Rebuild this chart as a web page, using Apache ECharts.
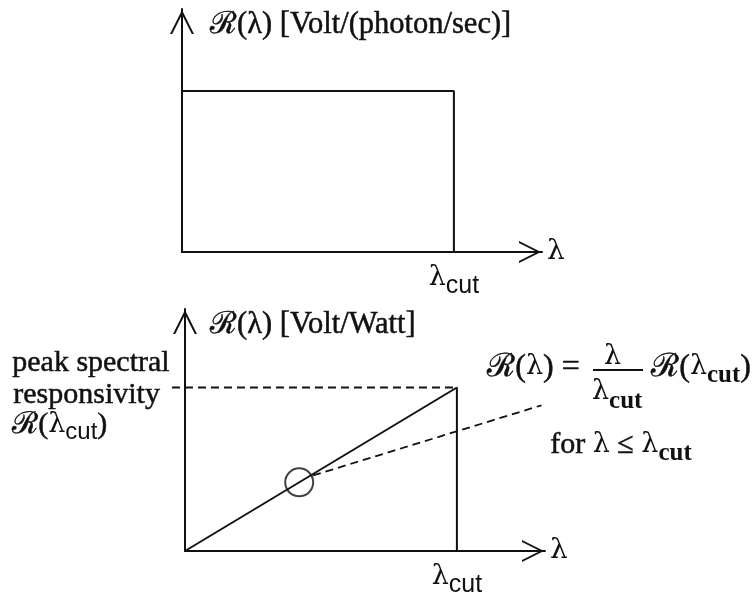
<!DOCTYPE html>
<html>
<head>
<meta charset="utf-8">
<style>
  html, body { margin: 0; padding: 0; background: #fff; }
  #chart { width: 755px; height: 598px; }
</style>
<script src="https://cdn.jsdelivr.net/npm/echarts@6/dist/echarts.min.js"></script>
</head>
<body>
<div id="chart"></div>
<script>
// Wavelengths are normalised to the cut-off wavelength (λcut = 1),
// responsivities to their peak value.
const lambdaCut = 1;
const axisMaxX = 1.324;

// Upper panel: responsivity per photon rate — flat up to λcut, zero beyond
const photonWavelength = [0, 1, 1];
const photonResponse = [1, 1, 0];
const photonAxisMaxY = 1.51;

// Lower panel: responsivity per watt — rises linearly up to λcut
const wattWavelength = [0, 1, 1];
const wattResponse = [0, 1, 0];
const wattAxisMaxY = 1.48;

// Dashed guide at the peak spectral responsivity (starts just left of the axis)
const peakGuideX = [-0.048, 1];
const peakGuideY = [1, 1];

// Highlighted point on the ramp and the dashed leader to the formula
const markerPoint = [0.42, 0.42];
const leaderX = [0.471, 1.311];
const leaderY = [0.462, 0.891];

const SERIF = "'Liberation Serif', 'DejaVu Serif', serif";
const LAMBDA = "'DejaVu Serif', 'Liberation Serif', serif";
const SANS = "'Liberation Sans', Arial, sans-serif";
const INK = '#111';
const HEAVY = 0.5; // slight outline so the serif text prints a little heavier

// open chevron arrow head, pointing up in its own box
const chevron = 'path://M12,0 L24,24 L21.8,24 L12,4.4 L2.2,24 L0,24 Z';

function pairs(xs, ys) {
  return xs.map((x, i) => [x, ys[i]]);
}

const cutLabelRich = {
  g: { fontFamily: LAMBDA, fontSize: 27, color: INK },
  s: { fontFamily: SANS, fontSize: 25, color: INK, padding: [18, 0, 0, 0] }
};

function xAxisFor(gridIndex) {
  return {
    gridIndex: gridIndex,
    type: 'value',
    min: 0,
    max: axisMaxX,
    interval: lambdaCut,
    axisLine: {
      show: true,
      onZero: false,
      symbol: ['none', chevron],
      symbolSize: [22, 24],
      symbolOffset: [0, -12],
      lineStyle: { color: INK, width: 2 }
    },
    axisTick: { show: false },
    splitLine: { show: false },
    axisLabel: {
      margin: 4,
      formatter: v => (Math.abs(v - lambdaCut) < 1e-9 ? '{g|λ}{s|cut}' : ''),
      rich: cutLabelRich
    },
    name: 'λ',
    nameLocation: 'end',
    nameGap: 5,
    nameTextStyle: { fontFamily: LAMBDA, fontSize: 28, color: INK, verticalAlign: 'middle', align: 'left' }
  };
}

function yAxisFor(gridIndex, max, title, pad) {
  return {
    gridIndex: gridIndex,
    type: 'value',
    min: 0,
    max: max,
    axisLine: {
      show: true,
      onZero: false,
      symbol: ['none', chevron],
      symbolSize: [24, 26],
      symbolOffset: [0, -13],
      lineStyle: { color: INK, width: 2 }
    },
    axisTick: { show: false },
    splitLine: { show: false },
    axisLabel: { show: false },
    name: title,
    nameLocation: 'end',
    nameGap: -16,
    nameTextStyle: {
      fontFamily: SERIF, fontSize: 30.5, color: INK,
      textBorderColor: INK, textBorderWidth: HEAVY,
      align: 'left', verticalAlign: 'middle',
      padding: [0, 0, 0, pad]
    }
  };
}

const solid = { color: INK, width: 2 };

// two-point dashed segment drawn in data coordinates, free to leave the plot area
function dashedSegment(xs, ys) {
  return {
    type: 'custom', xAxisIndex: 1, yAxisIndex: 1, clip: false,
    data: [[xs[0], ys[0], xs[1], ys[1]]],
    renderItem: (params, api) => {
      const a = api.coord([api.value(0), api.value(1)]);
      const b = api.coord([api.value(2), api.value(3)]);
      return {
        type: 'line',
        shape: { x1: a[0], y1: a[1], x2: b[0], y2: b[1] },
        style: { stroke: INK, lineWidth: 1.8, lineDash: [8, 5], fill: null }
      };
    }
  };
}

function serifText(left, top, text) {
  return {
    type: 'text', left: left, top: top,
    style: { text: text, font: '30px ' + SERIF, fill: INK, stroke: INK, lineWidth: HEAVY }
  };
}

// rich-text token styles for the annotation (text outline via stroke/lineWidth)
const tokSerif = { fontFamily: SERIF, fontSize: 30, fill: INK, stroke: INK, lineWidth: HEAVY };
const tokSerifBig = { fontFamily: SERIF, fontSize: 32, fill: INK, stroke: INK, lineWidth: HEAVY };
const tokLambda = { fontFamily: LAMBDA, fontSize: 27, fill: INK };
function tokSub(family, size, drop, bold) {
  return { fontFamily: family, fontSize: size, fontWeight: bold ? 'bold' : 'normal', fill: INK, padding: [drop, 0, 0, 0] };
}

const option = {
  backgroundColor: '#fff',
  animation: false,
  grid: [
    { left: 182, top: 9, width: 360, height: 243 },
    { left: 185, top: 309, width: 360, height: 244 }
  ],
  xAxis: [xAxisFor(0), xAxisFor(1)],
  yAxis: [
    yAxisFor(0, photonAxisMaxY, 'ℛ(λ) [Volt/(photon/sec)]', 28),
    yAxisFor(1, wattAxisMaxY, 'ℛ(λ) [Volt/Watt]', 25)
  ],
  series: [
    {
      type: 'line', xAxisIndex: 0, yAxisIndex: 0,
      data: pairs(photonWavelength, photonResponse),
      symbol: 'none', lineStyle: solid
    },
    {
      type: 'line', xAxisIndex: 1, yAxisIndex: 1,
      data: pairs(wattWavelength, wattResponse),
      symbol: 'none', lineStyle: solid
    },
    dashedSegment(peakGuideX, peakGuideY),
    dashedSegment(leaderX, leaderY),
    {
      type: 'scatter', xAxisIndex: 1, yAxisIndex: 1,
      data: [markerPoint],
      symbol: 'circle', symbolSize: 28,
      itemStyle: { color: 'rgba(0,0,0,0)', borderColor: INK, borderWidth: 2 }
    }
  ],
  graphic: [
    // left-hand annotation
    serifText(12, 348, 'peak spectral'),
    serifText(13, 380, 'responsivity'),
    {
      type: 'text', left: 12, top: 410,
      style: {
        text: '{g|ℛ(}{l|λ}{s|cut}{g|)}',
        rich: { g: tokSerif, l: tokLambda, s: tokSub(SANS, 24, 14, false) }
      }
    },
    // formula: ℛ(λ) = λ/λcut · ℛ(λcut)
    {
      type: 'text', left: 487, top: 351,
      style: {
        text: '{g|ℛ(}{l|λ}{g|) =}',
        rich: { g: tokSerifBig, l: tokLambda }
      }
    },
    { type: 'text', left: 604, top: 343, style: { text: 'λ', font: '27px ' + LAMBDA, fill: INK } },
    { type: 'line', shape: { x1: 593, y1: 370, x2: 643, y2: 370 }, style: { stroke: INK, lineWidth: 1.8 } },
    {
      type: 'text', left: 592, top: 378,
      style: {
        text: '{l|λ}{s|cut}',
        rich: { l: tokLambda, s: tokSub(SERIF, 25, 20, true) }
      }
    },
    {
      type: 'text', left: 651, top: 351,
      style: {
        text: '{g|ℛ(}{l|λ}{s|cut}{g|)}',
        rich: { g: tokSerifBig, l: tokLambda, s: tokSub(SERIF, 25, 16, true) }
      }
    },
    {
      type: 'text', left: 550, top: 430,
      style: {
        text: '{g|for }{l|λ}{g| ≤ }{l|λ}{s|cut}',
        rich: { g: tokSerif, l: tokLambda, s: tokSub(SERIF, 25, 16, true) }
      }
    }
  ]
};

const chart = echarts.init(document.getElementById('chart'), null, { renderer: 'canvas' });
chart.setOption(option);
</script>
</body>
</html>
